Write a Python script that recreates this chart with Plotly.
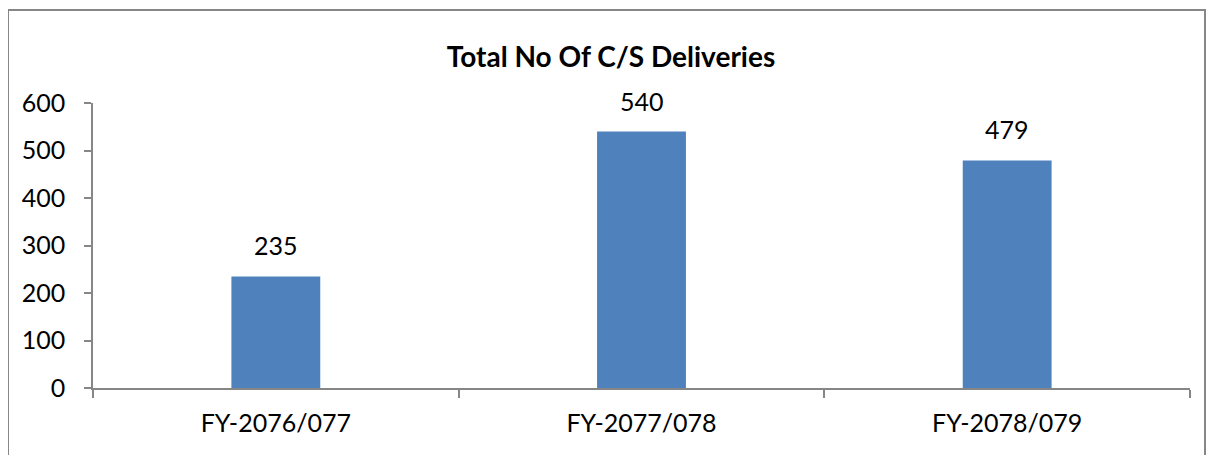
import plotly.graph_objects as go

# data
years = ["FY-2076/077", "FY-2077/078", "FY-2078/079"]
deliveries = [235, 540, 479]

fig = go.Figure(data=[go.Bar(
    x=years, y=deliveries,
    marker=dict(color="#4F81BD", line=dict(width=0)),
)])

# value labels above the bars
for yr, v in zip(years, deliveries):
    fig.add_annotation(x=yr, y=v, text=str(v), showarrow=False,
                       yanchor="bottom", yshift=14,
                       font=dict(size=25, color="black"))

axis_grey = "#868686"
fig.update_layout(
    width=1206, height=447,
    margin=dict(l=85, r=24, t=95, b=67),
    plot_bgcolor="white", paper_bgcolor="white",
    font=dict(family="Lato, Noto Sans, sans-serif", size=25, color="black"),
    title=dict(text="<b>Total No Of C/S Deliveries</b>", x=0.5, xref="container",
               y=0.89, yanchor="middle", font=dict(size=28, color="black")),
    bargap=0.757,
    showlegend=False,
)
fig.update_yaxes(range=[0, 600], dtick=100, showgrid=False, zeroline=False,
                 showline=True, linecolor=axis_grey, linewidth=1.5,
                 ticks="outside", ticklen=7, tickcolor=axis_grey, tickwidth=1.5,
                 ticklabelstandoff=14)
fig.update_xaxes(showgrid=False, showline=True, linecolor=axis_grey, linewidth=1.5,
                 ticks="outside", tickson="boundaries", ticklen=8,
                 tickcolor=axis_grey, tickwidth=1.5, ticklabelstandoff=12)

# chart border (runs off the bottom of the picture)
fig.add_shape(type="rect", xref="paper", yref="paper",
              x0=-0.0775, x1=1.0137, y0=-0.4, y1=1.326,
              line=dict(color=axis_grey, width=2), layer="below")

fig.write_html("out.html")
